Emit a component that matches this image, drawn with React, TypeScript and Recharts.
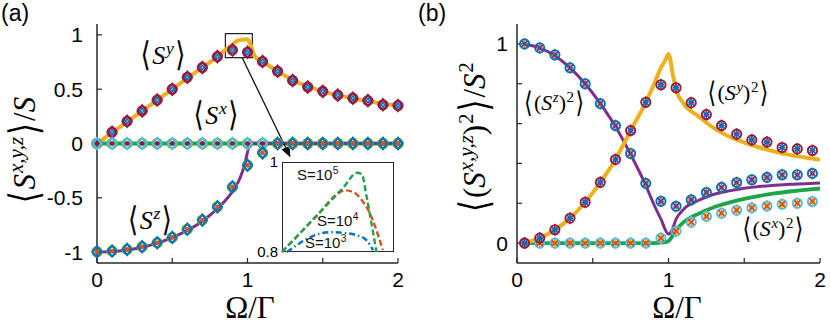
import React from 'react';
import { ComposedChart, Line, Scatter, XAxis, YAxis, ReferenceArea, ReferenceLine } from 'recharts';

// ---- panel (a): <S^{x,y,z}>/S ----
const xA = [0, 0.1, 0.2, 0.3, 0.4, 0.5, 0.6, 0.7, 0.8, 0.9, 1.0, 1.1, 1.2, 1.3, 1.4, 1.5, 1.6, 1.7, 1.8, 1.9, 2.0];
const syA = [0, 0.104, 0.205, 0.3, 0.4, 0.5, 0.61, 0.7, 0.8, 0.86, 0.84, 0.755, 0.665, 0.58, 0.52, 0.48, 0.445, 0.417, 0.395, 0.356, 0.35];
const sxA = [0, 0, 0, 0, 0, 0, 0, 0, 0, 0, 0, 0, 0, 0, 0, 0, 0, 0, 0, 0, 0];
const szA = [-0.997, -0.99, -0.975, -0.95, -0.914, -0.865, -0.79, -0.705, -0.583, -0.4, -0.2, -0.086, 0, 0, 0, 0, 0, 0, 0, 0, 0];

const syLineX = [0, 0.1, 0.2, 0.3, 0.4, 0.5, 0.6, 0.7, 0.8, 0.85, 0.9, 0.93, 0.96, 1.0, 1.02, 1.05, 1.1, 1.2, 1.3, 1.4, 1.5, 1.6, 1.7, 1.8, 1.9, 2.0];
const syLineY = [0, 0.1, 0.2, 0.3, 0.4, 0.5, 0.6, 0.7, 0.8, 0.86, 0.91, 0.945, 0.955, 0.96, 0.91, 0.8, 0.755, 0.665, 0.585, 0.525, 0.48, 0.445, 0.415, 0.39, 0.365, 0.35];
const sxLineX = [0, 2];
const sxLineY = [0, 0];
const szLineX = [0, 0.1, 0.2, 0.3, 0.4, 0.5, 0.6, 0.7, 0.8, 0.85, 0.9, 0.95, 0.98, 1.0, 1.01, 1.03, 2.0];
const szLineY = [-1, -0.995, -0.98, -0.955, -0.917, -0.866, -0.8, -0.715, -0.6, -0.53, -0.44, -0.32, -0.2, -0.08, -0.02, 0, 0];

// inset: zoom of the <S^y> peak for three spin sizes
const s5X = [0.86, 0.914, 0.948, 0.967, 0.974, 0.981, 0.988, 0.995];
const s5Y = [0.8, 0.888, 0.944, 0.976, 0.973, 0.922, 0.862, 0.8];
const s4X = [0.86, 0.914, 0.938, 0.95, 0.962, 0.974, 0.985, 0.995, 1.004];
const s4Y = [0.8, 0.888, 0.928, 0.937, 0.933, 0.915, 0.888, 0.848, 0.804];
const s3X = [0.867, 0.881, 0.9, 0.929, 0.952, 0.967, 0.981, 0.99];
const s3Y = [0.8, 0.815, 0.833, 0.844, 0.842, 0.837, 0.826, 0.804];

// ---- panel (b): <(S^{x,y,z})^2>/S^2 ----
const xB = [0.05, 0.15, 0.25, 0.35, 0.45, 0.55, 0.65, 0.75, 0.85, 0.95, 1.05, 1.15, 1.25, 1.35, 1.45, 1.55, 1.65, 1.75, 1.85, 1.95];
const sz2B = [1.0, 0.98, 0.945, 0.88, 0.8, 0.7, 0.59, 0.45, 0.3, 0.21, 0.185, 0.217, 0.254, 0.28, 0.304, 0.318, 0.33, 0.343, 0.343, 0.35];
const sy2B = [0, 0.025, 0.067, 0.125, 0.205, 0.305, 0.42, 0.565, 0.707, 0.795, 0.78, 0.705, 0.645, 0.59, 0.547, 0.518, 0.507, 0.48, 0.473, 0.465];
const sx2B = [0, 0, 0, 0, 0, 0, 0, 0, 0, 0.025, 0.06, 0.105, 0.134, 0.15, 0.165, 0.177, 0.186, 0.195, 0.2, 0.209];

const sz2LineX = [0.05, 0.15, 0.25, 0.35, 0.45, 0.55, 0.65, 0.75, 0.85, 0.9, 0.95, 1.0, 1.02, 1.05, 1.1, 1.2, 1.3, 1.4, 1.5, 1.6, 1.7, 1.8, 1.9, 2.0];
const sz2LineY = [1, 0.98, 0.94, 0.88, 0.8, 0.7, 0.585, 0.445, 0.29, 0.2, 0.12, 0.045, 0.06, 0.12, 0.17, 0.215, 0.245, 0.262, 0.275, 0.284, 0.29, 0.295, 0.298, 0.302];
const sy2LineX = [0.05, 0.15, 0.25, 0.35, 0.45, 0.55, 0.65, 0.75, 0.85, 0.9, 0.95, 0.98, 1.0, 1.03, 1.05, 1.1, 1.2, 1.3, 1.4, 1.5, 1.6, 1.7, 1.8, 1.9, 2.0];
const sy2LineY = [0, 0.025, 0.067, 0.125, 0.205, 0.305, 0.42, 0.565, 0.707, 0.79, 0.88, 0.92, 0.95, 0.84, 0.77, 0.7, 0.635, 0.577, 0.535, 0.505, 0.48, 0.46, 0.443, 0.43, 0.418];
const sx2LineX = [0.05, 0.9, 0.97, 1.0, 1.03, 1.06, 1.1, 1.2, 1.3, 1.4, 1.5, 1.6, 1.7, 1.8, 1.9, 2.0];
const sx2LineY = [0, 0, 0.003, 0.01, 0.04, 0.075, 0.105, 0.148, 0.18, 0.203, 0.222, 0.237, 0.249, 0.259, 0.267, 0.274];

const xTicks = [0, 0.5, 1, 1.5, 2];
const yTicksA = [-1, -0.5, 0, 0.5, 1];
const yTicksB = [0, 0.2, 0.4, 0.6, 0.8, 1];

const zip = (xs: number[], ys: number[]) => xs.map((x, i) => ({ x, y: ys[i] }));

const C = {
  orange: '#edb120',
  green: '#1fa34a',
  purple: '#7e2f8e',
  crimson: '#a2142f',
  blue: '#0072bd',
  cyan: '#4dbeee',
  red: '#d95319',
  lime: '#77ac30',
};

// marker shapes
const ring = (color: string, r = 4.6, w = 1.9) => (p: any) => (
  <circle cx={p.cx} cy={p.cy} r={r} fill="none" stroke={color} strokeWidth={w} />
);
const dot = (color: string, r = 2.4) => (p: any) => <circle cx={p.cx} cy={p.cy} r={r} fill={color} />;
const diamond = (color: string, h = 5.6, w = 4.4, sw = 2.1) => (p: any) => (
  <path
    d={`M${p.cx},${p.cy - h}L${p.cx + w},${p.cy}L${p.cx},${p.cy + h}L${p.cx - w},${p.cy}Z`}
    fill="none"
    stroke={color}
    strokeWidth={sw}
  />
);
const plus = (color: string, h = 6, w = 3, sw = 1.6) => (p: any) => (
  <path d={`M${p.cx},${p.cy - h}V${p.cy + h}M${p.cx - w},${p.cy}H${p.cx + w}`} stroke={color} strokeWidth={sw} />
);
const xmark = (color: string, s = 3, sw = 1.8) => (p: any) => (
  <path
    d={`M${p.cx - s},${p.cy - s}L${p.cx + s},${p.cy + s}M${p.cx - s},${p.cy + s}L${p.cx + s},${p.cy - s}`}
    stroke={color}
    strokeWidth={sw}
  />
);

const arrowShape = (p: any) => {
  const { x1, y1, x2, y2 } = p;
  const a = Math.atan2(y2 - y1, x2 - x1);
  const L = 11;
  const W = 4.5;
  const bx = x2 - L * Math.cos(a);
  const by = y2 - L * Math.sin(a);
  const px = -Math.sin(a) * W;
  const py = Math.cos(a) * W;
  return (
    <g>
      <line x1={x1} y1={y1} x2={bx} y2={by} stroke="#111" strokeWidth={1.3} />
      <polygon points={`${x2},${y2} ${bx + px},${by + py} ${bx - px},${by - py}`} fill="#111" />
    </g>
  );
};

const axisLine = { stroke: '#262626', strokeWidth: 1.5 };
const tickLine = { stroke: '#262626', strokeWidth: 1.2 };
const tickFont = { fontSize: 21, fill: '#000', fontFamily: 'Liberation Sans, Arial, sans-serif' };
const fmt = (keep: number[]) => (v: number) => (keep.includes(v) ? String(v) : '');

const Sup = ({ children }: { children: React.ReactNode }) => (
  <span style={{ fontSize: '0.68em', position: 'relative', top: '-0.55em', marginLeft: '0.04em' }}>{children}</span>
);
const Ang = ({ c }: { c: string }) => (
  <span style={{ fontFamily: 'DejaVu Serif', fontStyle: 'normal', fontWeight: 300, display: 'inline-block', transform: 'scaleY(1.3)', margin: '0 0.06em' }}>
    {c}
  </span>
);

const mathBase: React.CSSProperties = {
  position: 'absolute',
  fontFamily: 'Liberation Serif, Times New Roman, serif',
  whiteSpace: 'nowrap',
  lineHeight: 1,
  color: '#000',
};

const Txt = ({ x, y, size, rot, children }: any) => (
  <div style={{ ...mathBase, left: x, top: y, fontSize: size, transform: `translate(-50%, -50%)${rot ? ' rotate(-90deg)' : ''}` }}>
    {children}
  </div>
);

const Ssym = ({ sup }: { sup: string }) => (
  <>
    <i>S</i>
    <Sup>
      <i>{sup}</i>
    </Sup>
  </>
);

const insetLabel: React.CSSProperties = {
  position: 'absolute',
  fontFamily: 'Liberation Sans, Arial, sans-serif',
  fontSize: 15,
  color: '#111',
  whiteSpace: 'nowrap',
  lineHeight: 1,
};

const panelLetter: React.CSSProperties = {
  position: 'absolute',
  top: 0,
  fontFamily: 'Liberation Sans, Arial, sans-serif',
  fontSize: 23,
  lineHeight: '26px',
};

export default function App() {
  return (
    <div style={{ position: 'absolute', left: 0, top: 0, width: 830, height: 332, background: '#fff', overflow: 'hidden' }}>
      {/* panel (a) */}
      <div style={{ position: 'absolute', left: 0, top: 0 }}>
        <ComposedChart width={415} height={332} margin={{ top: 24, right: 17, bottom: 0, left: 0 }}>
          <XAxis xAxisId="b" type="number" dataKey="x" domain={[0, 2]} ticks={xTicks} tickFormatter={fmt([0, 1, 2])}
            axisLine={axisLine} tickLine={tickLine} tickSize={-5} tickMargin={14} height={69} tick={tickFont} interval={0} />
          <XAxis xAxisId="t" orientation="top" type="number" dataKey="x" domain={[0, 2]} ticks={xTicks}
            axisLine={axisLine} tickLine={tickLine} tickSize={-5} height={0} tick={false} interval={0} />
          <YAxis yAxisId="l" type="number" dataKey="y" domain={[-1.1, 1.1]} ticks={yTicksA}
            axisLine={axisLine} tickLine={tickLine} tickSize={-5} tickMargin={19} width={97} tick={tickFont} interval={0} />
          <YAxis yAxisId="r" orientation="right" type="number" dataKey="y" domain={[-1.1, 1.1]} ticks={yTicksA}
            axisLine={axisLine} tickLine={tickLine} tickSize={-5} width={0} tick={false} interval={0} />

          <Line xAxisId="b" yAxisId="l" data={zip(sxLineX, sxLineY)} dataKey="y" stroke={C.green} strokeWidth={3.8} dot={false} isAnimationActive={false} />
          <Line xAxisId="b" yAxisId="l" data={zip(szLineX, szLineY)} dataKey="y" type="monotone" stroke={C.purple} strokeWidth={3} dot={false} isAnimationActive={false} />
          <Line xAxisId="b" yAxisId="l" data={zip(syLineX, syLineY)} dataKey="y" type="monotone" stroke={C.orange} strokeWidth={4} dot={false} isAnimationActive={false} />

          <Scatter xAxisId="b" yAxisId="l" data={zip(xA, syA)} shape={ring(C.purple, 4.6, 2)} isAnimationActive={false} />
          <Scatter xAxisId="b" yAxisId="l" data={zip(xA, syA)} shape={diamond(C.crimson)} isAnimationActive={false} />
          <Scatter xAxisId="b" yAxisId="l" data={zip(xA, syA)} shape={plus(C.blue, 3, 3, 2.4)} isAnimationActive={false} />
          <Scatter xAxisId="b" yAxisId="l" data={zip(xA, syA)} shape={dot(C.cyan, 1.1)} isAnimationActive={false} />

          <Scatter xAxisId="b" yAxisId="l" data={zip(xA, sxA)} shape={ring(C.lime, 4.8, 1.8)} isAnimationActive={false} />
          <Scatter xAxisId="b" yAxisId="l" data={zip(xA, sxA)} shape={diamond(C.cyan)} isAnimationActive={false} />
          <Scatter xAxisId="b" yAxisId="l" data={zip(xA, sxA)} shape={dot(C.crimson, 2.3)} isAnimationActive={false} />

          <Scatter xAxisId="b" yAxisId="l" data={zip(xA, szA)} shape={ring(C.lime, 4.8, 1.8)} isAnimationActive={false} />
          <Scatter xAxisId="b" yAxisId="l" data={zip(xA, szA)} shape={diamond(C.blue)} isAnimationActive={false} />
          <Scatter xAxisId="b" yAxisId="l" data={zip(xA, szA)} shape={dot(C.red, 2.4)} isAnimationActive={false} />

          <ReferenceArea xAxisId="b" yAxisId="l" x1={0.853} x2={1.032} y1={0.79} y2={1.012} fill="none" stroke="#222" strokeWidth={1.2} ifOverflow="visible" />
          <ReferenceLine xAxisId="b" yAxisId="l" segment={[{ x: 0.965, y: 0.79 }, { x: 1.285, y: -0.128 }]} shape={arrowShape} ifOverflow="visible" />
        </ComposedChart>
      </div>

      {/* inset */}
      <div style={{ position: 'absolute', left: 282, top: 162, width: 112, height: 90, background: '#fff', border: '1.5px solid #262626', boxSizing: 'border-box' }} />
      <div style={{ position: 'absolute', left: 250, top: 146 }}>
        <ComposedChart width={150} height={116} margin={{ top: 16, right: 6, bottom: 10, left: 0 }}>
          <XAxis type="number" dataKey="x" domain={[0.86, 1.02]} hide />
          <YAxis type="number" dataKey="y" domain={[0.8, 1]} ticks={[0.8, 1]} width={32} axisLine={false} tickLine={false}
            tickSize={0} tickMargin={4} tick={{ fontSize: 15, fill: '#000', fontFamily: 'Liberation Sans, Arial, sans-serif' }} interval={0} />
          <Line data={zip(s3X, s3Y)} dataKey="y" type="monotone" stroke={C.blue} strokeWidth={2.4} strokeDasharray="6 3 1.5 3" dot={false} isAnimationActive={false} />
          <Line data={zip(s4X, s4Y)} dataKey="y" type="monotone" stroke={C.red} strokeWidth={2.4} strokeDasharray="6 3" dot={false} isAnimationActive={false} />
          <Line data={zip(s5X, s5Y)} dataKey="y" type="monotone" stroke={C.green} strokeWidth={2.4} strokeDasharray="6 3" dot={false} isAnimationActive={false} />
        </ComposedChart>
      </div>
      <div style={{ ...insetLabel, left: 297, top: 167 }}>S=10<Sup>5</Sup></div>
      <div style={{ ...insetLabel, left: 317, top: 213 }}>S=10<Sup>4</Sup></div>
      <div style={{ ...insetLabel, left: 305, top: 235 }}>S=10<Sup>3</Sup></div>

      {/* panel (b) */}
      <div style={{ position: 'absolute', left: 415, top: 0 }}>
        <ComposedChart width={415} height={332} margin={{ top: 24, right: 10, bottom: 0, left: 0 }}>
          <XAxis xAxisId="b" type="number" dataKey="x" domain={[0, 2]} ticks={xTicks} tickFormatter={fmt([0, 1, 2])}
            axisLine={axisLine} tickLine={tickLine} tickSize={-5} tickMargin={14} height={69} tick={tickFont} interval={0} />
          <XAxis xAxisId="t" orientation="top" type="number" dataKey="x" domain={[0, 2]} ticks={xTicks}
            axisLine={axisLine} tickLine={tickLine} tickSize={-5} height={0} tick={false} interval={0} />
          <YAxis yAxisId="l" type="number" dataKey="y" domain={[-0.1, 1.1]} ticks={yTicksB} tickFormatter={fmt([0, 1])}
            axisLine={axisLine} tickLine={tickLine} tickSize={-5} tickMargin={14} width={102} tick={tickFont} interval={0} />
          <YAxis yAxisId="r" orientation="right" type="number" dataKey="y" domain={[-0.1, 1.1]} ticks={yTicksB}
            axisLine={axisLine} tickLine={tickLine} tickSize={-5} width={0} tick={false} interval={0} />

          <Line xAxisId="b" yAxisId="l" data={zip(sx2LineX, sx2LineY)} dataKey="y" type="monotone" stroke={C.green} strokeWidth={3.8} dot={false} isAnimationActive={false} />
          <Line xAxisId="b" yAxisId="l" data={zip(sz2LineX, sz2LineY)} dataKey="y" type="monotone" stroke={C.purple} strokeWidth={3} dot={false} isAnimationActive={false} />
          <Line xAxisId="b" yAxisId="l" data={zip(sy2LineX, sy2LineY)} dataKey="y" type="monotone" stroke={C.orange} strokeWidth={4} dot={false} isAnimationActive={false} />

          <Scatter xAxisId="b" yAxisId="l" data={zip(xB, sx2B)} shape={plus(C.orange)} isAnimationActive={false} />
          <Scatter xAxisId="b" yAxisId="l" data={zip(xB, sx2B)} shape={ring(C.cyan)} isAnimationActive={false} />
          <Scatter xAxisId="b" yAxisId="l" data={zip(xB, sx2B)} shape={xmark(C.red)} isAnimationActive={false} />

          <Scatter xAxisId="b" yAxisId="l" data={zip(xB, sz2B)} shape={plus(C.lime)} isAnimationActive={false} />
          <Scatter xAxisId="b" yAxisId="l" data={zip(xB, sz2B)} shape={ring(C.blue)} isAnimationActive={false} />
          <Scatter xAxisId="b" yAxisId="l" data={zip(xB, sz2B)} shape={xmark(C.purple)} isAnimationActive={false} />

          <Scatter xAxisId="b" yAxisId="l" data={zip(xB, sy2B)} shape={plus(C.purple)} isAnimationActive={false} />
          <Scatter xAxisId="b" yAxisId="l" data={zip(xB, sy2B)} shape={ring(C.crimson)} isAnimationActive={false} />
          <Scatter xAxisId="b" yAxisId="l" data={zip(xB, sy2B)} shape={xmark(C.blue)} isAnimationActive={false} />
        </ComposedChart>
      </div>

      {/* panel letters */}
      <div style={{ ...panelLetter, left: 1 }}>(a)</div>
      <div style={{ ...panelLetter, left: 418 }}>(b)</div>

      {/* axis titles */}
      <Txt x={24} y={151} size={31} rot>
        <Ang c="⟨" /><Ssym sup="x,y,z" /><Ang c="⟩" />/<i>S</i>
      </Txt>
      <Txt x={250} y={307} size={31}>Ω/Γ</Txt>
      <Txt x={474} y={138} size={31} rot>
        <Ang c="⟨" />(<Ssym sup="x,y,z" />)<Sup>2</Sup><Ang c="⟩" />/<i>S</i><Sup>2</Sup>
      </Txt>
      <Txt x={677} y={307} size={31}>Ω/Γ</Txt>

      {/* curve annotations */}
      <Txt x={163} y={55} size={26}><Ang c="⟨" /><Ssym sup="y" /><Ang c="⟩" /></Txt>
      <Txt x={216} y={115} size={26}><Ang c="⟨" /><Ssym sup="x" /><Ang c="⟩" /></Txt>
      <Txt x={150} y={220} size={26}><Ang c="⟨" /><Ssym sup="z" /><Ang c="⟩" /></Txt>
      <Txt x={554} y={103} size={22}><Ang c="⟨" />(<Ssym sup="z" />)<Sup>2</Sup><Ang c="⟩" /></Txt>
      <Txt x={738} y={93} size={22}><Ang c="⟨" />(<Ssym sup="y" />)<Sup>2</Sup><Ang c="⟩" /></Txt>
      <Txt x={773} y={229} size={22}><Ang c="⟨" />(<Ssym sup="x" />)<Sup>2</Sup><Ang c="⟩" /></Txt>
    </div>
  );
}
